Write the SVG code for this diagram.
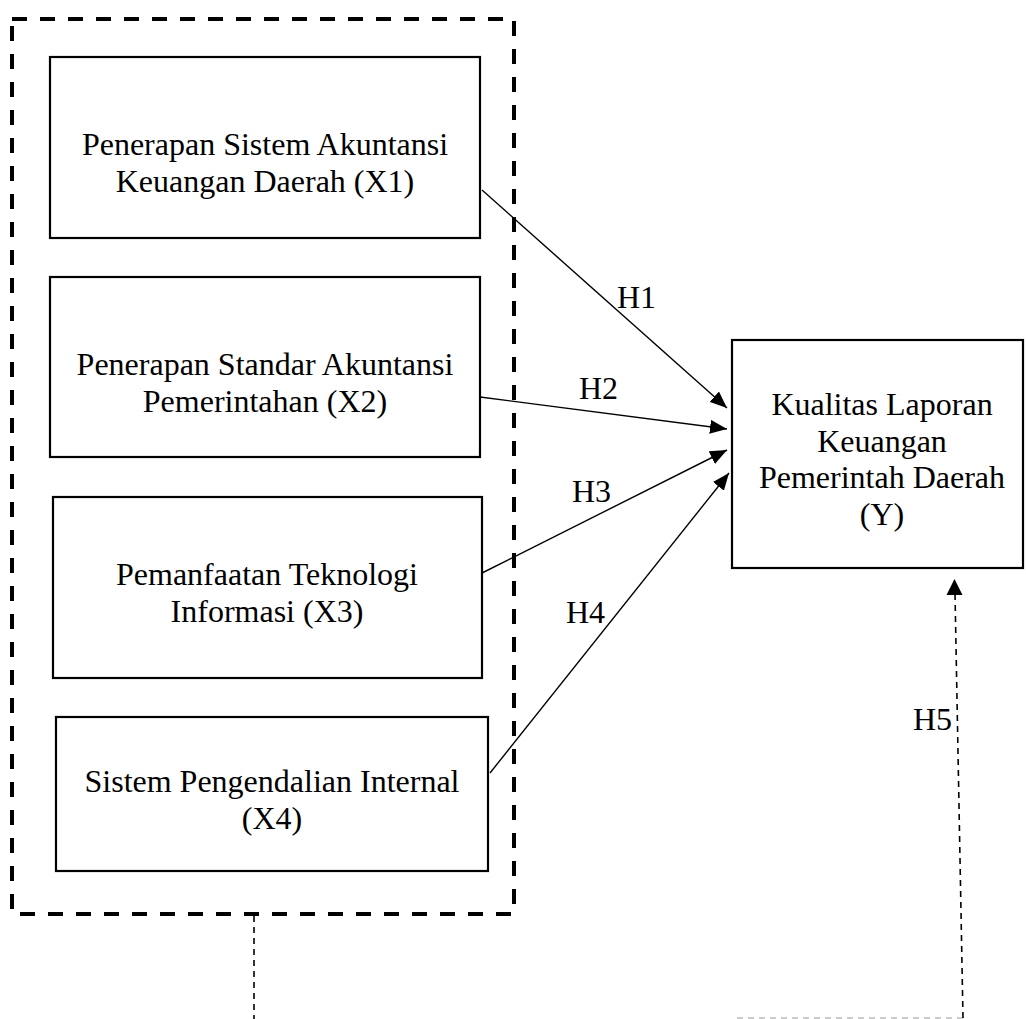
<svg xmlns="http://www.w3.org/2000/svg" width="1026" height="1019" viewBox="0 0 1026 1019">
<style>
.box{fill:#fff;stroke:#000;stroke-width:2.2}
.lbl{font-family:"Liberation Serif","Times New Roman",serif;font-size:32px;fill:#000;text-anchor:middle}
.hl{font-family:"Liberation Serif","Times New Roman",serif;font-size:32px;fill:#000}
.arr{stroke:#000;stroke-width:1.4;fill:none;marker-end:url(#ah)}
.thin{stroke:#000;stroke-width:1.6;fill:none;stroke-dasharray:6,5}
</style>
<defs>
<marker id="ah" markerUnits="userSpaceOnUse" markerWidth="18" markerHeight="14" refX="17" refY="7" orient="auto">
<path d="M0,0 L17,7 L0,14 Z" fill="#000"/>
</marker>
</defs>
<rect width="1026" height="1019" fill="#fff"/>
<g id="frame">
<rect x="12" y="19" width="502" height="895" fill="none" stroke="#000" stroke-width="4" stroke-dasharray="15,13"/>
</g>
<g id="x1">
<rect class="box" x="50" y="57" width="430" height="181"/>
<text class="lbl" x="265" y="155">Penerapan Sistem Akuntansi</text>
<text class="lbl" x="265" y="192">Keuangan Daerah (X1)</text>
</g>
<g id="x2">
<rect class="box" x="50" y="277" width="430" height="180"/>
<text class="lbl" x="265" y="375">Penerapan Standar Akuntansi</text>
<text class="lbl" x="265" y="412">Pemerintahan (X2)</text>
</g>
<g id="x3">
<rect class="box" x="53" y="497" width="429" height="181"/>
<text class="lbl" x="267" y="585">Pemanfaatan Teknologi</text>
<text class="lbl" x="267" y="622">Informasi (X3)</text>
</g>
<g id="x4">
<rect class="box" x="56" y="717" width="432" height="154"/>
<text class="lbl" x="272" y="792">Sistem Pengendalian Internal</text>
<text class="lbl" x="272" y="829">(X4)</text>
</g>
<g id="y">
<rect class="box" x="732" y="340" width="291" height="228"/>
<text class="lbl" x="882" y="415">Kualitas Laporan</text>
<text class="lbl" x="882" y="452">Keuangan</text>
<text class="lbl" x="882" y="488">Pemerintah Daerah</text>
<text class="lbl" x="882" y="525">(Y)</text>
</g>
<g id="connectors">
<line class="arr" x1="482" y1="190" x2="727" y2="408"/>
<line class="arr" x1="480" y1="397" x2="727" y2="429"/>
<line class="arr" x1="482" y1="573" x2="727" y2="450"/>
<line class="arr" x1="490" y1="773" x2="729" y2="473"/>
<line class="thin" x1="254" y1="916" x2="254" y2="1019"/>
<line x1="737" y1="1018" x2="963" y2="1018" stroke="#999" stroke-width="1.2" stroke-dasharray="6,5"/>
<line class="thin" x1="963" y1="1018" x2="955" y2="593"/>
<path d="M954.5,579 L946.5,595 L962.5,595 Z" fill="#000"/>
<text class="hl" x="617" y="308">H1</text>
<text class="hl" x="579" y="399">H2</text>
<text class="hl" x="572" y="502">H3</text>
<text class="hl" x="566" y="623">H4</text>
<text class="hl" x="913" y="730">H5</text>
</g>
</svg>
